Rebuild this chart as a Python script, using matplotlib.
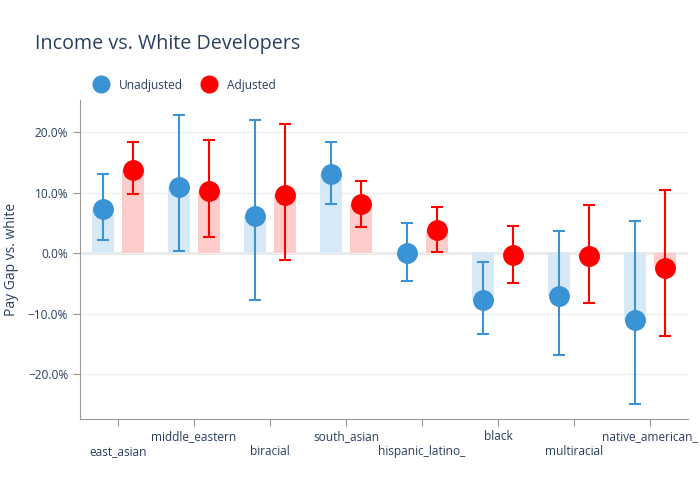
import numpy as np
import matplotlib.pyplot as plt
from matplotlib.lines import Line2D

plt.rcParams['font.family'] = ['Open Sans', 'DejaVu Sans']

groups = ["east_asian", "middle_eastern", "biracial", "south_asian",
          "hispanic_latino_", "black", "multiracial", "native_american_"]

# values in percent
unadj = [7.3, 11.0, 6.1, 13.1, 0.0, -7.7, -7.1, -11.1]
unadj_lo = [2.1, 0.4, -7.8, 8.2, -4.6, -13.4, -16.8, -25.0]
unadj_hi = [13.0, 22.8, 22.0, 18.4, 5.0, -1.5, 3.7, 5.3]

adj = [13.8, 10.3, 9.6, 8.1, 3.9, -0.3, -0.4, -2.4]
adj_lo = [9.7, 2.6, -1.1, 4.4, 0.2, -5.0, -8.2, -13.7]
adj_hi = [18.4, 18.7, 21.4, 11.9, 7.6, 4.5, 8.0, 10.5]

blue = '#3a93d4'
red = '#ff0000'
txt = '#2a3f5f'

fig = plt.figure(figsize=(7, 5), dpi=100)
ax = fig.add_axes([0.1143, 0.162, 0.8686, 0.638])

x = np.arange(len(groups))
off = 0.2
w = 0.285

ax.bar(x - off, unadj, width=w, color='#d7e9f7', zorder=1)
ax.bar(x + off, adj, width=w, color='#ffcccc', zorder=1)

u = np.array(unadj)
a = np.array(adj)
ax.errorbar(x - off, u, yerr=[u - np.array(unadj_lo), np.array(unadj_hi) - u],
            fmt='o', color=blue, ms=14, elinewidth=1.5, capsize=4, capthick=1.5, zorder=3)
ax.errorbar(x + off, a, yerr=[a - np.array(adj_lo), np.array(adj_hi) - a],
            fmt='o', color=red, ms=14, elinewidth=1.5, capsize=4, capthick=1.5, zorder=3)

ax.axhline(0, color='#e5e5e5', lw=2, zorder=0.5)
ax.set_xlim(-0.5, 7.5)
ax.set_ylim(-27.4, 25.3)
ax.set_yticks([-20, -10, 0, 10, 20])
ax.set_yticklabels([f"{v:.1f}%".replace('-', '\u2212') for v in [-20, -10, 0, 10, 20]])
ax.grid(axis='y', color='#f0f0f0', lw=1, zorder=0)
ax.set_axisbelow(True)

ax.set_xticks(x)
ax.set_xticklabels([("\n" + g) if i % 2 == 0 else g for i, g in enumerate(groups)])

for s in ['top', 'right']:
    ax.spines[s].set_visible(False)
for s in ['left', 'bottom']:
    ax.spines[s].set_color('#999999')
ax.tick_params(axis='both', colors='#999999', labelcolor=txt, labelsize=8.6, length=5)
ax.tick_params(axis='x', pad=3)

ax.set_ylabel("Pay Gap vs. white", color=txt, fontsize=10, labelpad=6)

fig.text(0.05, 0.912, "Income vs. White Developers", color=txt, fontsize=14.2, va='center')

handles = [Line2D([], [], marker='o', ls='', color=blue, ms=12),
           Line2D([], [], marker='o', ls='', color=red, ms=12)]
leg = fig.legend(handles, ["Unadjusted", "Adjusted"], loc='center left',
                 bbox_to_anchor=(0.112, 0.83), ncol=2, frameon=False,
                 fontsize=8.6, handletextpad=0.5, columnspacing=1.2)
for t in leg.get_texts():
    t.set_color(txt)

fig.savefig("out.png", dpi=100)
